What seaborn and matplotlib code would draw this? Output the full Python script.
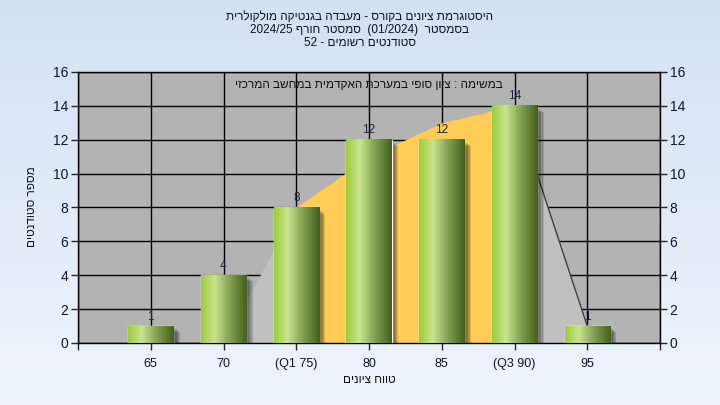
import re
import numpy as np
import matplotlib
matplotlib.use('Agg')
import matplotlib.pyplot as plt
import seaborn as sns
from matplotlib.colors import LinearSegmentedColormap
from matplotlib.patches import Rectangle

# data
grades = ['65', '70', '(Q1 75)', '80', '85', '(Q3 90)', '95']
counts = [1, 4, 8, 12, 12, 14, 1]
# background distribution curve (bar index -> value)
curve_pos = [1, 2, 3, 4, 5, 6]
curve_vals = [0, 8, 11, 13, 14, 1]
q1_pos, q3_pos = 2, 5

title_lines = [
    'היסטוגרמת ציונים בקורס - מעבדה בגנטיקה מולקולרית',
    'בסמסטר  (01/2024)  סמסטר חורף 2024/25',
    'סטודנטים רשומים - 52',
]
note_text = 'במשימה : ציון סופי במערכת האקדמית במחשב המרכזי'
xlabel_text = 'טווח ציונים'
ylabel_text = 'מספר סטודנטים'


def rtl(s):
    # matplotlib has no bidi, so build the visual order by hand
    r = s[::-1]
    r = re.sub(r'[0-9A-Za-z/.]+', lambda m: m.group(0)[::-1], r)
    return r.translate(str.maketrans('()', ')('))


sns.set_style('white')
plt.rcParams['font.family'] = ['Liberation Sans', 'DejaVu Sans']

fig = plt.figure(figsize=(7.2, 4.05), dpi=100)

# page gradient
bg = fig.add_axes([0, 0, 1, 1], zorder=-10)
bg_cmap = LinearSegmentedColormap.from_list('bg', ['#d3e1f4', '#eef5fd'])
bg.imshow(np.linspace(0, 1, 256).reshape(-1, 1), cmap=bg_cmap, aspect='auto',
          extent=[0, 1, 0, 1])
bg.axis('off')

ax = fig.add_axes([78 / 720, 62 / 405, 582 / 720, 271 / 405])
ax.set_facecolor('#b3b3b3')

sns.barplot(x=grades, y=counts, ax=ax, width=0.62, color='#8ab040', zorder=3)

# distribution area behind the bars
ax.fill_between(curve_pos[:2], curve_vals[:2], color='#c0c0c0', lw=0, zorder=2)
ax.fill_between(curve_pos[q1_pos - 1:q3_pos], curve_vals[q1_pos - 1:q3_pos],
                color='#ffcc55', lw=0, zorder=2)
ax.fill_between(curve_pos[4:], curve_vals[4:], color='#c0c0c0', lw=0, zorder=2)
ax.plot(curve_pos[4:], curve_vals[4:], color='#404040', lw=1, zorder=2.2)

# cylinder look + drop shadow
bar_cmap = LinearSegmentedColormap.from_list(
    'bar', [(0, '#9ccc3c'), (0.3, '#c9e48e'), (0.6, '#88a656'), (1, '#435f1c')])
grad = np.linspace(0, 1, 128).reshape(1, -1)
for p in list(ax.patches):
    x0, w, h = p.get_x(), p.get_width(), p.get_height()
    for k in range(1, 7):
        ax.add_patch(Rectangle((x0 + k * 0.015, 0), w, h - k * 0.06,
                               color='black', alpha=0.13, lw=0, zorder=2.5))
    ax.imshow(grad, cmap=bar_cmap, aspect='auto', extent=[x0, x0 + w, 0, h],
              zorder=4)

for i, c in enumerate(counts):
    ax.text(i, c + 0.2, str(c), ha='center', va='bottom', fontsize=8.5,
            color='#202040', zorder=6)

ax.set_xlim(-1, 7)
ax.set_ylim(0, 16)
ax.set_xticks(range(-1, 8))
ax.set_xticklabels([''] + grades + [''])
ax.set_yticks(range(0, 17, 2))
ax.set_axisbelow(True)
ax.grid(True, color='black', lw=1)
ax.set_xlabel('')
ax.set_ylabel('')
for s in ax.spines.values():
    s.set_color('black')
    s.set_linewidth(1)
ax.tick_params(axis='y', left=True, right=True, labelleft=True, labelright=True,
               length=5, width=1, direction='out', labelsize=10,
               labelcolor='#101040', pad=2)
ax.tick_params(axis='x', bottom=True, length=5, width=1, direction='out',
               labelsize=9, labelcolor='#101030', pad=6)

ax.text(3.0, 15.25, rtl(note_text), ha='center', va='center', fontsize=8.5,
        color='#101010', zorder=7)

for j, line in enumerate(title_lines):
    fig.text(0.5, 1 - (17 + 13 * j) / 405, rtl(line), ha='center', va='center',
             fontsize=8.5, color='#101020')

fig.text(369 / 720, 1 - 380 / 405, rtl(xlabel_text), ha='center', va='center',
         fontsize=8.5, color='#101010')
fig.text(32 / 720, 1 - 207 / 405, rtl(ylabel_text), ha='center', va='center',
         rotation=90, fontsize=8.5, color='#101010')

fig.savefig('out.png', dpi=100)
